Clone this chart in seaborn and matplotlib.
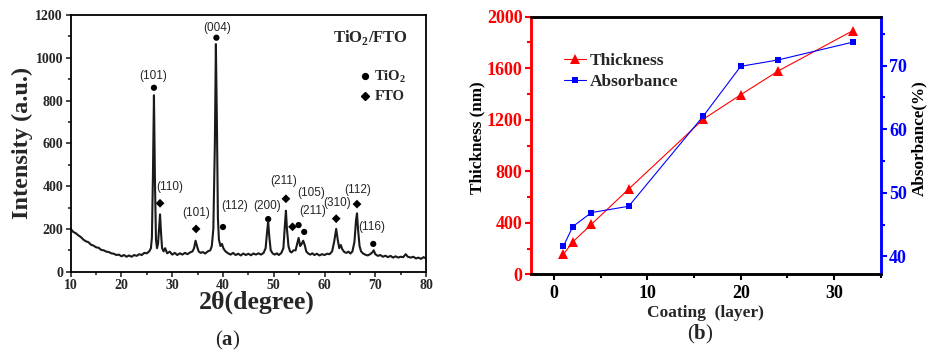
import numpy as np
import pandas as pd
import matplotlib
matplotlib.use("Agg")
import matplotlib.pyplot as plt
from matplotlib.ticker import MultipleLocator
import seaborn as sns

# ---------------- data: panel (a) XRD pattern ----------------
two_theta = [10.0, 10.5, 11.0, 11.5, 12.0, 12.5, 13.0, 13.5, 14.0, 14.5, 15.0, 15.5,
             16.0, 16.5, 17.0, 17.5, 18.0, 18.5, 19.0, 19.5, 20.0, 20.5, 21.0, 21.5,
             22.0, 22.5, 23.0, 23.5, 24.0, 24.5, 25.0, 25.5, 25.8, 26.0, 26.2, 26.4,
             26.6, 26.8, 27.0, 27.2, 27.4, 27.6, 27.8, 28.0, 28.3, 28.6, 29.0, 29.5,
             30.0, 30.5, 31.0, 31.5, 32.0, 32.5, 33.0, 33.5, 34.0, 34.3, 34.6, 34.9,
             35.2, 35.6, 36.0, 36.5, 37.0, 37.5, 37.8, 38.1, 38.4, 38.6, 38.8, 39.0,
             39.2, 39.5, 39.8, 40.1, 40.5, 41.0, 41.5, 42.0, 42.5, 43.0, 43.5, 44.0,
             44.5, 45.0, 45.5, 46.0, 46.5, 47.0, 47.5, 48.0, 48.4, 48.7, 48.9, 49.1,
             49.4, 49.8, 50.2, 50.6, 51.0, 51.5, 51.9, 52.2, 52.4, 52.6, 52.9, 53.2,
             53.5, 53.9, 54.3, 54.6, 54.9, 55.2, 55.5, 55.8, 56.1, 56.4, 56.8, 57.2,
             57.6, 58.0, 58.5, 59.0, 59.5, 60.0, 60.5, 61.0, 61.5, 61.9, 62.3, 62.6,
             62.9, 63.2, 63.5, 63.9, 64.3, 64.7, 65.1, 65.5, 65.9, 66.2, 66.4, 66.6,
             66.9, 67.2, 67.6, 68.0, 68.5, 69.0, 69.4, 69.7, 70.0, 70.5, 71.0, 71.5,
             72.0, 72.5, 73.0, 73.5, 74.0, 74.5, 75.0, 75.5, 76.0, 76.4, 77.0, 77.5,
             78.0, 78.5, 79.0, 79.5, 80.0]
intensity = [200, 186, 180, 170, 162, 150, 142, 138, 126, 122, 114, 112,
             102, 100, 94, 92, 86, 84, 78, 80, 72, 78, 70, 76,
             70, 78, 74, 82, 78, 88, 86, 96, 110, 160, 450, 825,
             420, 150, 110, 130, 200, 268, 180, 110, 95, 110, 86, 94,
             80, 88, 78, 86, 80, 88, 82, 90, 95, 110, 145, 118,
             95, 88, 92, 85, 95, 100, 120, 200, 600, 1064, 700, 250,
             150, 120, 130, 108, 95, 86, 80, 88, 78, 84, 76, 85,
             78, 84, 77, 85, 80, 86, 80, 88, 110, 190, 235, 170,
             100, 85, 80, 86, 78, 88, 110, 220, 285, 200, 120, 95,
             90, 100, 100, 130, 158, 120, 130, 145, 125, 95, 85, 80,
             86, 78, 84, 76, 82, 78, 84, 82, 95, 140, 200, 150,
             110, 125, 105, 92, 88, 94, 85, 95, 140, 240, 273, 200,
             120, 95, 85, 80, 76, 82, 90, 100, 82, 74, 78, 70,
             75, 68, 74, 66, 72, 66, 70, 68, 82, 70, 66, 70,
             62, 66, 60, 68, 62]

peak_theta = [26.4, 38.7, 27.6, 34.7, 40.0, 48.9, 52.4, 53.7, 54.9, 56.0, 62.3, 66.4, 69.6]
peak_mark_I = [860, 1094, 320, 200, 209, 246, 341, 210, 218, 186, 248, 316, 130]
peak_phase = ["TiO2", "TiO2", "FTO", "FTO", "TiO2", "TiO2", "FTO", "FTO", "TiO2", "TiO2",
              "FTO", "FTO", "TiO2"]
peak_hkl = ["(101)", "(004)", "(110)", "(101)", "(112)", "(200)", "(211)", "", "(105)",
            "(211)", "(310)", "(112)", "(116)"]

# ---------------- data: panel (b) ----------------
coating = [1, 2, 4, 8, 16, 20, 24, 32]
thickness = [155, 251, 388, 662, 1205, 1394, 1578, 1891]
absorbance = [41.6, 44.7, 46.9, 47.9, 62.1, 69.9, 70.9, 73.7]

# ---------------- layout ----------------
# label offsets (dx in degrees, dy in a.u.) relative to the peak markers
label_offsets = [(-0.1, 55), (0.1, 47), (2.0, 75), (0.0, 73), (2.4, 98), (-0.3, 61),
                 (-0.4, 84), (0, 0), (2.4, 148), (1.7, 99), (0.2, 75), (0.1, 66), (-0.2, 77)]

sns.set_style("white")
plt.rcParams["font.family"] = ["Liberation Serif", "DejaVu Serif"]
plt.rcParams["font.weight"] = "bold"
plt.rcParams["font.style"] = "normal"
plt.rcParams["mathtext.fontset"] = "custom"
plt.rcParams["mathtext.rm"] = "Liberation Serif:bold"
plt.rcParams["mathtext.bf"] = "Liberation Serif:bold"

fig = plt.figure(figsize=(9.29, 3.51), dpi=100)
axa = fig.add_axes([0.0761, 0.2259, 0.3825, 0.7313])
axb = fig.add_axes([0.5713, 0.2185, 0.3767, 0.7339])

# ---- panel (a)
xrd = pd.DataFrame({"two_theta": two_theta, "intensity": intensity})
sns.lineplot(data=xrd, x="two_theta", y="intensity", ax=axa, color="#1a1a1a",
             linewidth=1.5, estimator=None, sort=False)

pk = pd.DataFrame({"t": peak_theta, "I": peak_mark_I, "phase": peak_phase})
sns.scatterplot(data=pk, x="t", y="I", hue="phase", style="phase",
                markers={"TiO2": "o", "FTO": "D"}, palette={"TiO2": "black", "FTO": "black"},
                s=20, ax=axa, legend=False, linewidth=0)
for t, i, lab, (dx, dy) in zip(peak_theta, peak_mark_I, peak_hkl, label_offsets):
    if lab:
        axa.text(t + dx, i + dy, lab, ha="center", va="center", fontsize=8.5,
                 family="Liberation Sans", fontweight="normal")

axa.set_xlim(10, 80)
axa.set_ylim(0, 1200)
axa.xaxis.set_major_locator(MultipleLocator(10))
axa.xaxis.set_minor_locator(MultipleLocator(5))
axa.yaxis.set_major_locator(MultipleLocator(200))
axa.yaxis.set_minor_locator(MultipleLocator(100))
axa.tick_params(which="both", direction="out", length=3.5, width=1.2, bottom=True, left=True,
                labelsize=10, pad=2)
axa.tick_params(which="minor", length=2.5)
for s in axa.spines.values():
    s.set_color("black")
    s.set_linewidth(1.3)
axa.set_xlabel("2θ(degree)", fontsize=18.5, fontweight="bold", labelpad=0)
axa.xaxis.set_label_coords(0.523, -0.075)
axa.set_ylabel("Intensity (a.u.)", fontsize=17.5, fontweight="bold", labelpad=2)

axa.text(69.0, 1094, r"TiO$_2$/FTO", ha="center", va="center", fontsize=12,
         fontweight="bold")
axa.plot([67.9], [916], "o", color="black", ms=4.2)
axa.plot([67.9], [823], "D", color="black", ms=3.8)
axa.text(69.8, 912, r"TiO$_2$", ha="left", va="center", fontsize=10.5, fontweight="bold")
axa.text(69.8, 819, "FTO", ha="left", va="center", fontsize=10.5, fontweight="bold")

# ---- panel (b)
dfb = pd.DataFrame({"coating": coating, "thickness": thickness, "absorbance": absorbance})
sns.lineplot(data=dfb, x="coating", y="thickness", ax=axb, color="red", marker="^",
             markersize=6.5, markeredgewidth=0, linewidth=0.8, label="Thickness", legend=False)
axb2 = axb.twinx()
sns.lineplot(data=dfb, x="coating", y="absorbance", ax=axb2, color="blue", marker="s",
             markersize=5, markeredgewidth=0, linewidth=0.8, label="Absorbance", legend=False)

axb.set_xlim(-2.5, 35)
axb.set_ylim(0, 2000)
axb2.set_ylim(37.2, 77.7)
axb.xaxis.set_major_locator(MultipleLocator(10))
axb.xaxis.set_minor_locator(MultipleLocator(5))
axb.yaxis.set_major_locator(MultipleLocator(400))
axb.yaxis.set_minor_locator(MultipleLocator(200))
axb2.yaxis.set_major_locator(MultipleLocator(10))
axb2.yaxis.set_minor_locator(MultipleLocator(5))

axb.tick_params(axis="x", which="both", direction="out", length=4, width=1.5, bottom=True,
                labelsize=13, colors="black", pad=4)
axb.tick_params(axis="x", which="minor", length=3)
axb.tick_params(axis="y", which="both", direction="out", length=4, width=1.5, left=True,
                labelsize=13, colors="red", pad=2)
axb.tick_params(axis="y", which="minor", length=3)
axb2.tick_params(axis="y", which="both", direction="out", length=4, width=1.5, right=True,
                 labelsize=13, colors="blue", pad=2)
axb2.tick_params(axis="y", which="minor", length=3)

for ax in (axb, axb2):
    ax.spines["top"].set_color("black")
    ax.spines["bottom"].set_color("black")
    ax.spines["left"].set_color("red")
    ax.spines["right"].set_color("blue")
    for s in ax.spines.values():
        s.set_linewidth(1.8)

axb.set_xlabel("Coating  (layer)", fontsize=12.5, fontweight="bold", labelpad=2)
axb.set_ylabel("Thickness (nm)", fontsize=12.3, fontweight="bold", color="black")
axb2.set_ylabel("Absorbance(%)", fontsize=12.3, fontweight="bold", color="black")
axb.yaxis.set_label_coords(-0.13, 0.53)
axb2.yaxis.set_label_coords(1.087, 0.53)

h1, l1 = axb.get_legend_handles_labels()
h2, l2 = axb2.get_legend_handles_labels()
axb.legend(h1 + h2, l1 + l2, loc="upper left", bbox_to_anchor=(0.05, 0.92), frameon=False,
           prop={"family": "Liberation Serif", "weight": "bold", "style": "normal", "size": 12.5},
           handlelength=1.3, handletextpad=0.2, labelspacing=0.3)

fig.text(0.2454, 0.031, r"(" + "$\\mathbf{a}$" + ")", ha="center", va="center", fontsize=15,
         fontweight="normal")
fig.text(0.7535, 0.048, r"(" + "$\\mathbf{b}$" + ")", ha="center", va="center", fontsize=15,
         fontweight="normal")

fig.savefig("out.png", dpi=100)
